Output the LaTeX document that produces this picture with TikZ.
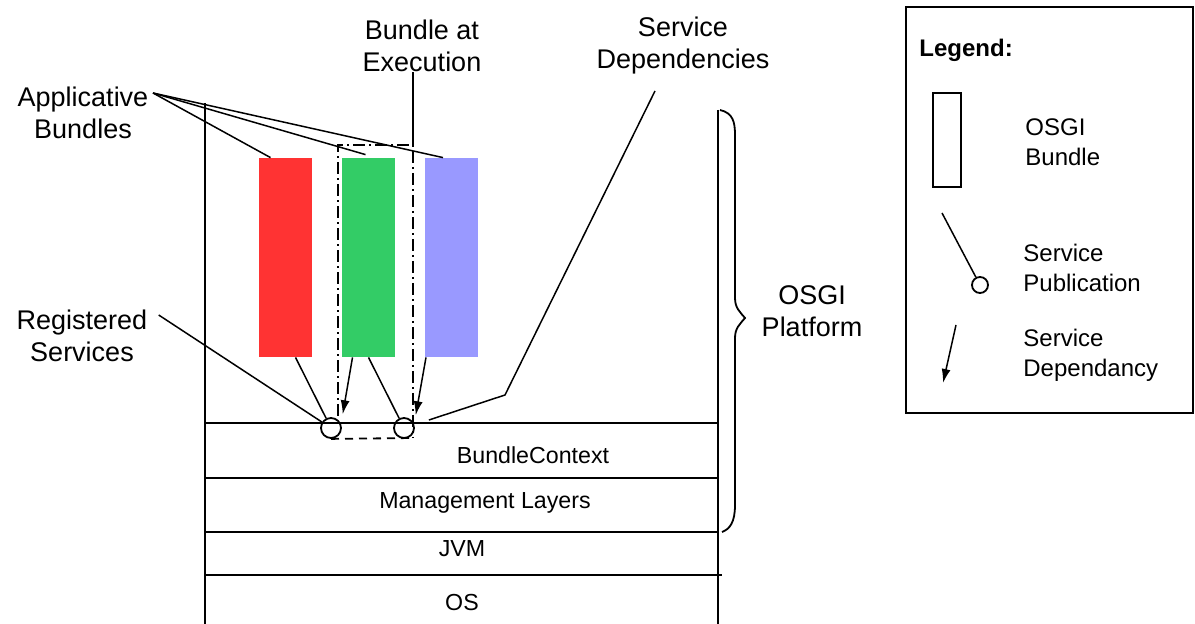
\documentclass[tikz,border=0pt]{standalone}
\usepackage{fontspec}
\setmainfont{Liberation Sans}
\usetikzlibrary{arrows.meta,calc}
\definecolor{bred}{HTML}{FF3333}
\definecolor{bgreen}{HTML}{33CC66}
\definecolor{bblue}{HTML}{9999FF}
\begin{document}
\begin{tikzpicture}[x=0.5pt,y=-0.5pt,
  frame/.style={line width=1pt},
  lbl/.style={align=center, font=\fontsize{13.5}{16}\selectfont, inner sep=0pt},
  lyr/.style={font=\fontsize{11.6}{14}\selectfont, inner sep=0pt},
  leg/.style={align=left, anchor=west, font=\fontsize{12}{15}\selectfont, inner sep=0pt},
  bundlebox/.style={draw=none, minimum width=26.5pt, minimum height=99.5pt, inner sep=0pt},
  conn/.style={line width=0.75pt},
  svc/.style={draw, circle, line width=0.9pt, minimum size=10pt, inner sep=0pt},
  dep/.style={line width=0.75pt, -{Latex[length=7pt,width=4.5pt]}},
  exec/.style={line width=0.9pt, dash pattern=on 6pt off 2pt on 1pt off 2pt},
  execbase/.style={line width=0.9pt, dash pattern=on 4pt off 3pt}
]
\useasboundingbox (0,0) rectangle (1195,624);

% platform stack
\draw[frame] (205,103) -- (205,624);
\draw[frame] (718,110) -- (718,624);
\draw[frame] (205,423) -- (718,423);
\draw[frame] (205,478) -- (718,478);
\draw[frame] (205,532) -- (718,532);
\draw[frame] (205,575) -- (722,575);
\node[lyr] (bc)  at (533,455) {BundleContext};
\node[lyr] (ml)  at (485,503) {Management Layers};
\node[lyr] (jvm) at (462,549) {JVM};
\node[lyr] (os)  at (462,603) {OS};

% bundles
\node[bundlebox, fill=bred]   (red)   at (285.5,257.5) {};
\node[bundlebox, fill=bgreen] (green) at (368.5,257.5) {};
\node[bundlebox, fill=bblue]  (blue)  at (451,257.5) {};

% registered services
\node[svc] (s1) at (331,428) {};
\node[svc] (s2) at (404,428) {};

% bundle at execution (dash-dotted outline)
\coordinate (xtl) at (338,145);
\coordinate (xtr) at (413,145);
\draw[exec] (338,416) -- (xtl) -- (xtr) -- (413,438);
\draw[execbase] (s1.south) -- (413,438);

% publications and dependencies
\draw[conn] ($(red.south)+(10,0)$) -- (s1);
\draw[conn] ($(green.south)+(0,0)$) -- (s2);
\draw[dep] ($(green.south)+(-16,0)$) -- ($(s1.north east)+(4,-6)$);
\draw[dep] ($(blue.south)+(-25,0)$) -- ($(s2.north east)+(4,-5)$);

% labels
\node[lbl] (app) at (83,113) {Applicative\\Bundles};
\coordinate (apptip) at (153,93);
\draw[conn] (apptip) -- ($(red.north)+(-15,0)$);
\draw[conn] (apptip) -- ($(green.north)+(-3,-3)$);
\draw[conn] (apptip) -- ($(blue.north)+(-8,0)$);

\node[lbl] (bae) at (422,46) {Bundle at\\Execution};
\draw[frame] (bae.south -| xtr) -- (xtr);

\node[lbl] (sdep) at (683,46) {Service\\Dependencies};
\draw[conn] ($(sdep.south)+(-28,16)$) -- (505,395) -- ($(s2.east)+(14,-8)$);

\node[lbl] (reg) at (82,336) {Registered\\Services};
\draw[conn] ($(reg.east)+(11,-21)$) -- (s1);

% OSGi platform brace
\draw[line width=0.9pt] (720,110) .. controls (733,113) and (735,122) .. (735,135)
  -- (735,298) .. controls (735,308) and (740,312) .. (745,318)
  .. controls (740,324) and (735,328) .. (735,338)
  -- (735,505) .. controls (735,522) and (730,529) .. (722,532);
\node[lbl] (plat) at (812,311) {OSGI\\Platform};

% legend
\node[draw, line width=1pt, minimum width=143.5pt, minimum height=203pt, inner sep=0pt] (legbox) at (1049.5,210) {};
\node[leg, font=\fontsize{12}{15}\selectfont\bfseries] (legt) at (919,50) {Legend:};
\node[draw, line width=0.8pt, minimum width=14pt, minimum height=47pt, inner sep=0pt] (legb) at (947,140) {};
\node[leg] (legbt) at (1025,142) {OSGI\\Bundle};
\node[svc, minimum size=8pt] (legs) at (980,285) {};
\coordinate (legsa) at (942,213);
\draw[conn] (legsa) -- (legs);
\node[leg] (legst) at (1023,268) {Service\\Publication};
\coordinate (legda) at (956,325);
\coordinate (legdb) at (943,383);
\draw[dep] (legda) -- (legdb);
\node[leg] (legdt) at (1023,355) {Service\\Dependancy};
\end{tikzpicture}
\end{document}
